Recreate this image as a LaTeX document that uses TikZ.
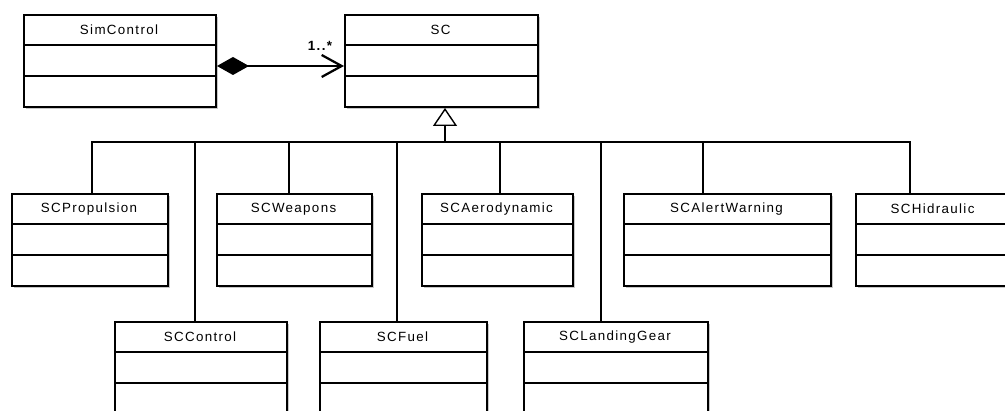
\documentclass[tikz,border=0pt]{standalone}
\usepackage{fontspec}
\setmainfont{Liberation Sans}[LetterSpace=10]
\usetikzlibrary{arrows.meta}

\tikzset{
  classbox/.style={draw, line width=1.4pt, fill=white, inner sep=0pt, anchor=north west},
  classshadow/.style={fill=black!22},
  compline/.style={line width=0.9pt},
  link/.style={line width=2pt},
}

% UML class: name, left, right, top, title
\newcommand{\umlclass}[5]{%
  \fill[classshadow] ({#2+3},{#4+3}) rectangle ({#3+3},{#4+95});
  \node[classbox, minimum width={(#3-#2)*0.025cm}, minimum height=2.3cm] (#1) at (#2,#4) {};
  \draw[compline] ({#2},{#4+31}) -- ({#3},{#4+31});
  \draw[compline] ({#2},{#4+62}) -- ({#3},{#4+62});
  \node (#1-title) at ({(#2+#3)/2},{#4+16}) {#5};
}

\begin{document}
\begin{tikzpicture}[x=0.025cm, y=-0.025cm, font=\fontsize{9.5}{11}\selectfont]

  \useasboundingbox (0,0) rectangle (1005,411);
  \clip (0,0) rectangle (1005,411);

  % Top classes
  \umlclass{simcontrol}{23}{215}{14}{SimControl}
  \umlclass{sc}{344}{537}{14}{SC}

  % Subclasses, first row
  \umlclass{prop}{11}{167}{193}{SCPropulsion}
  \umlclass{weap}{216}{371}{193}{SCWeapons}
  \umlclass{aero}{421}{572}{193}{SCAerodynamic}
  \umlclass{alert}{623}{830}{193}{SCAlertWarning}
  \umlclass{hidr}{855}{1010}{193}{SCHidraulic}

  % Subclasses, second row
  \umlclass{ctrl}{114}{286}{321}{SCControl}
  \umlclass{fuel}{319}{486}{321}{SCFuel}
  \umlclass{land}{523}{707}{321}{SCLandingGear}

  % Composition
  \draw[link, {Diamond[length=0.8cm, width=0.45cm]}-{Straight Barb[length=0.5cm, width=0.55cm, line width=1.6pt]}]
    ([yshift=-0.125cm]simcontrol.east) -- ([yshift=-0.125cm]sc.west);
  \node[font=\fontsize{9.5}{11}\selectfont\bfseries] (mult) at (320,46) {1..*};

  % Generalization
  \coordinate (hub) at (445,142);
  \foreach \n/\x in {prop/92, ctrl/195, weap/289, fuel/397, aero/500, land/601, alert/703, hidr/910} {
    \coordinate (\n-top) at (\x,142);
    \draw[link] (\n-top) -- (\n-top |- \n.north);
  }
  \draw[link, line cap=rect] (prop-top) -- (hidr-top);
  \draw[link, -{Triangle[open, length=0.45cm, width=0.6cm, line width=1pt]}] (hub) -- (hub |- sc.south);

\end{tikzpicture}
\end{document}
